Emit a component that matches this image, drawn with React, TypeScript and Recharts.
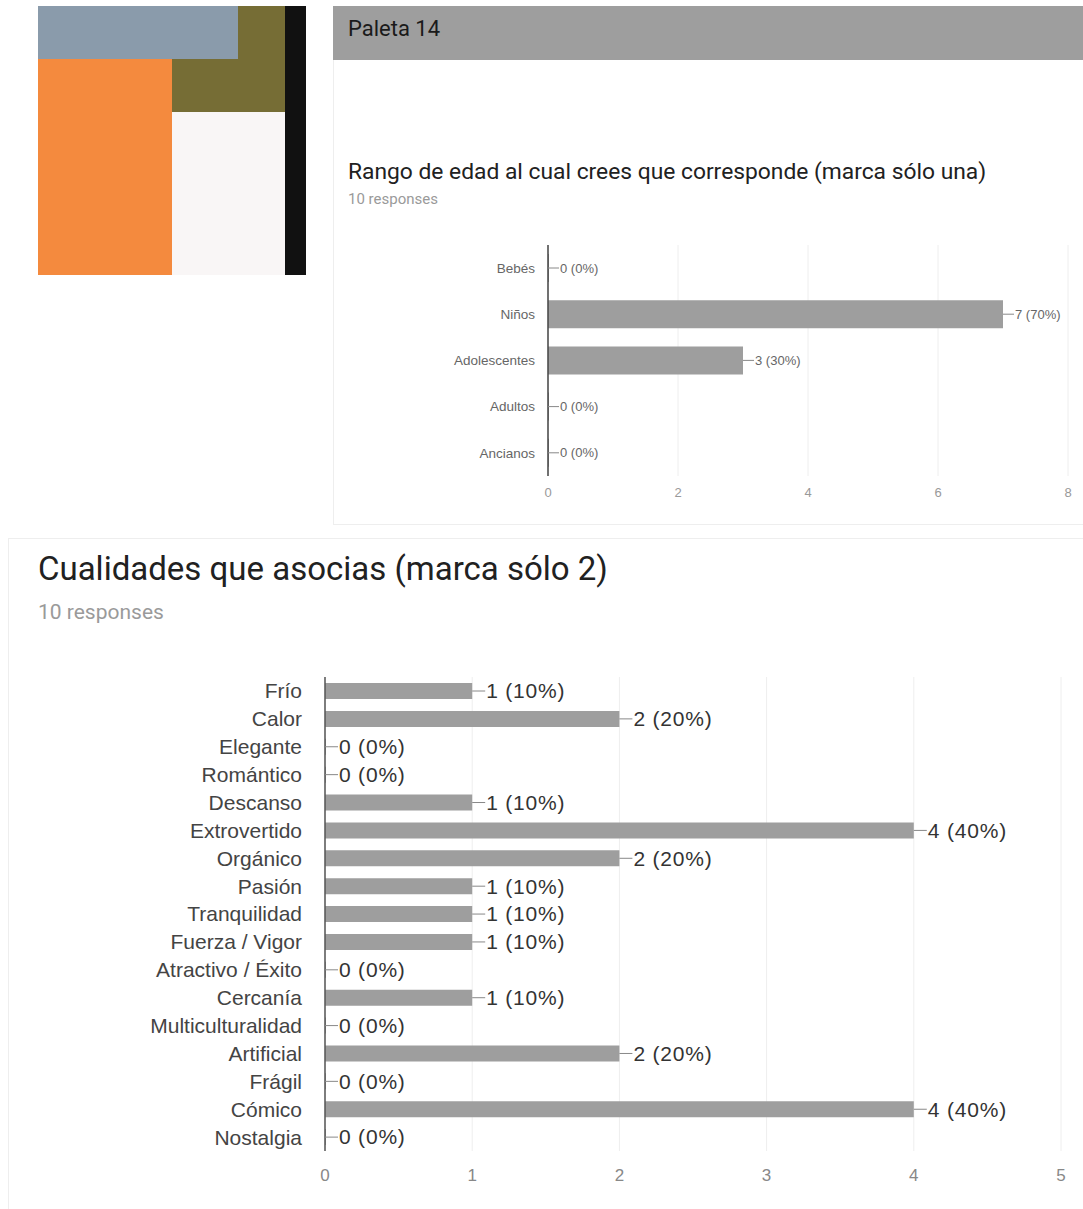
import { Bar, BarChart, CartesianGrid, LabelList, XAxis, YAxis } from 'recharts';

const totalResponses = 10;

const ageCategories = ['Bebés', 'Niños', 'Adolescentes', 'Adultos', 'Ancianos'];
const ageCounts = [0, 7, 3, 0, 0];
const ageTicks = [0, 2, 4, 6, 8];

const qualityCategories = [
  'Frío',
  'Calor',
  'Elegante',
  'Romántico',
  'Descanso',
  'Extrovertido',
  'Orgánico',
  'Pasión',
  'Tranquilidad',
  'Fuerza / Vigor',
  'Atractivo / Éxito',
  'Cercanía',
  'Multiculturalidad',
  'Artificial',
  'Frágil',
  'Cómico',
  'Nostalgia',
];
const qualityCounts = [1, 2, 0, 0, 1, 4, 2, 1, 1, 1, 0, 1, 0, 2, 0, 4, 0];
const qualityTicks = [0, 1, 2, 3, 4, 5];

const ageData = ageCategories.map((name, i) => ({ name, count: ageCounts[i] }));
const qualityData = qualityCategories.map((name, i) => ({ name, count: qualityCounts[i] }));

const ARIAL = '"Liberation Sans", Arial, sans-serif';
const ROBOTO = 'Roboto, "Noto Sans", sans-serif';
const BAR = '#9e9e9e';

// "—n (p%)" label hanging off the end of each bar
function valueLabel(fontSize: number, lineLen: number, color: string, spacing = 0) {
  return (props: any) => {
    const { x, y, width, height, value } = props;
    const x0 = Number(x) + (Number(value) === 0 ? 0 : Number(width));
    const cy = Number(y) + Number(height) / 2;
    const pct = Math.round((Number(value) / totalResponses) * 100);
    return (
      <g>
        <line x1={x0} y1={cy} x2={x0 + lineLen} y2={cy} stroke="#888" strokeWidth={1} />
        <text
          x={x0 + lineLen + 1}
          y={cy}
          dy="0.35em"
          fontSize={fontSize}
          fontFamily={ARIAL}
          letterSpacing={spacing}
          fill={color}
        >
          {`${value} (${pct}%)`}
        </text>
      </g>
    );
  };
}

function Palette() {
  const box = (left: number, top: number, w: number, h: number, bg: string) => (
    <div style={{ position: 'absolute', left, top, width: w, height: h, background: bg }} />
  );
  return (
    <>
      {box(38, 6, 247, 106, '#766d35')}
      {box(38, 6, 200, 53, '#8a9bab')}
      {box(38, 59, 134, 216, '#f48a3e')}
      {box(172, 112, 113, 163, '#f9f6f6')}
      {box(285, 6, 21, 269, '#111111')}
    </>
  );
}

export default function App() {
  return (
    <div
      style={{
        position: 'absolute',
        left: 0,
        top: 0,
        width: 1083,
        height: 1209,
        background: '#fff',
        overflow: 'hidden',
      }}
    >
      <Palette />

      {/* top card */}
      <div
        style={{
          position: 'absolute',
          left: 333,
          top: 6,
          width: 760,
          height: 54,
          background: '#9e9e9e',
        }}
      />
      <div
        style={{
          position: 'absolute',
          left: 348,
          top: 16,
          fontFamily: ROBOTO,
          fontSize: 22,
          fontWeight: 400,
          color: '#1a1a1a',
        }}
      >
        Paleta 14
      </div>
      <div
        style={{
          position: 'absolute',
          left: 333,
          top: 60,
          width: 760,
          height: 464,
          borderLeft: '1px solid #eeeeee',
          borderBottom: '1px solid #eeeeee',
        }}
      />
      <div
        style={{
          position: 'absolute',
          left: 348,
          top: 158,
          fontFamily: ROBOTO,
          fontSize: 22.8,
          color: '#212121',
          whiteSpace: 'nowrap',
        }}
      >
        Rango de edad al cual crees que corresponde (marca sólo una)
      </div>
      <div
        style={{
          position: 'absolute',
          left: 348,
          top: 190,
          fontFamily: ROBOTO,
          fontSize: 15,
          color: '#9a9a9a',
        }}
      >
        10 responses
      </div>

      <div style={{ position: 'absolute', left: 400, top: 230 }}>
        <BarChart
          width={683}
          height={280}
          data={ageData}
          layout="vertical"
          margin={{ top: 15, right: 15, bottom: 4, left: 0 }}
          barSize={28}
        >
          <CartesianGrid horizontal={false} stroke="#eeeeee" />
          <XAxis
            type="number"
            domain={[0, 8]}
            ticks={ageTicks}
            axisLine={false}
            tickLine={false}
            tickMargin={6}
            height={30}
            tick={{ fontSize: 13, fill: '#999', fontFamily: ARIAL }}
          />
          <YAxis
            type="category"
            dataKey="name"
            width={148}
            tickLine={false}
            tickMargin={7}
            axisLine={{ stroke: '#444', strokeWidth: 1.5 }}
            tick={{ fontSize: 13.5, fill: '#666', fontFamily: ARIAL }}
          />
          <Bar dataKey="count" fill={BAR} minPointSize={1} isAnimationActive={false}>
            <LabelList dataKey="count" content={valueLabel(13, 11, '#666')} />
          </Bar>
        </BarChart>
      </div>

      {/* bottom card */}
      <div
        style={{
          position: 'absolute',
          left: 8,
          top: 538,
          width: 1090,
          height: 680,
          borderTop: '1px solid #eeeeee',
          borderLeft: '1px solid #eeeeee',
        }}
      />
      <div
        style={{
          position: 'absolute',
          left: 38,
          top: 549,
          fontFamily: ROBOTO,
          fontSize: 33,
          color: '#212121',
          whiteSpace: 'nowrap',
        }}
      >
        Cualidades que asocias (marca sólo 2)
      </div>
      <div
        style={{
          position: 'absolute',
          left: 38,
          top: 600,
          fontFamily: ROBOTO,
          fontSize: 21,
          color: '#9a9a9a',
        }}
      >
        10 responses
      </div>

      <div style={{ position: 'absolute', left: 0, top: 660 }}>
        <BarChart
          width={1083}
          height={549}
          data={qualityData}
          layout="vertical"
          margin={{ top: 17, right: 22, bottom: 18, left: 0 }}
          barSize={16}
        >
          <CartesianGrid horizontal={false} stroke="#eeeeee" />
          <XAxis
            type="number"
            domain={[0, 5]}
            ticks={qualityTicks}
            axisLine={false}
            tickLine={false}
            tickMargin={12}
            height={40}
            tick={{ fontSize: 17, fill: '#888', fontFamily: ARIAL }}
          />
          <YAxis
            type="category"
            dataKey="name"
            width={325}
            tickLine={false}
            tickMargin={17}
            axisLine={{ stroke: '#555', strokeWidth: 1.5 }}
            tick={{ fontSize: 21, fill: '#444', fontFamily: ARIAL }}
            interval={0}
          />
          <Bar dataKey="count" fill={BAR} minPointSize={1} isAnimationActive={false}>
            <LabelList dataKey="count" content={valueLabel(21, 13, '#333', 0.8)} />
          </Bar>
        </BarChart>
      </div>
    </div>
  );
}
